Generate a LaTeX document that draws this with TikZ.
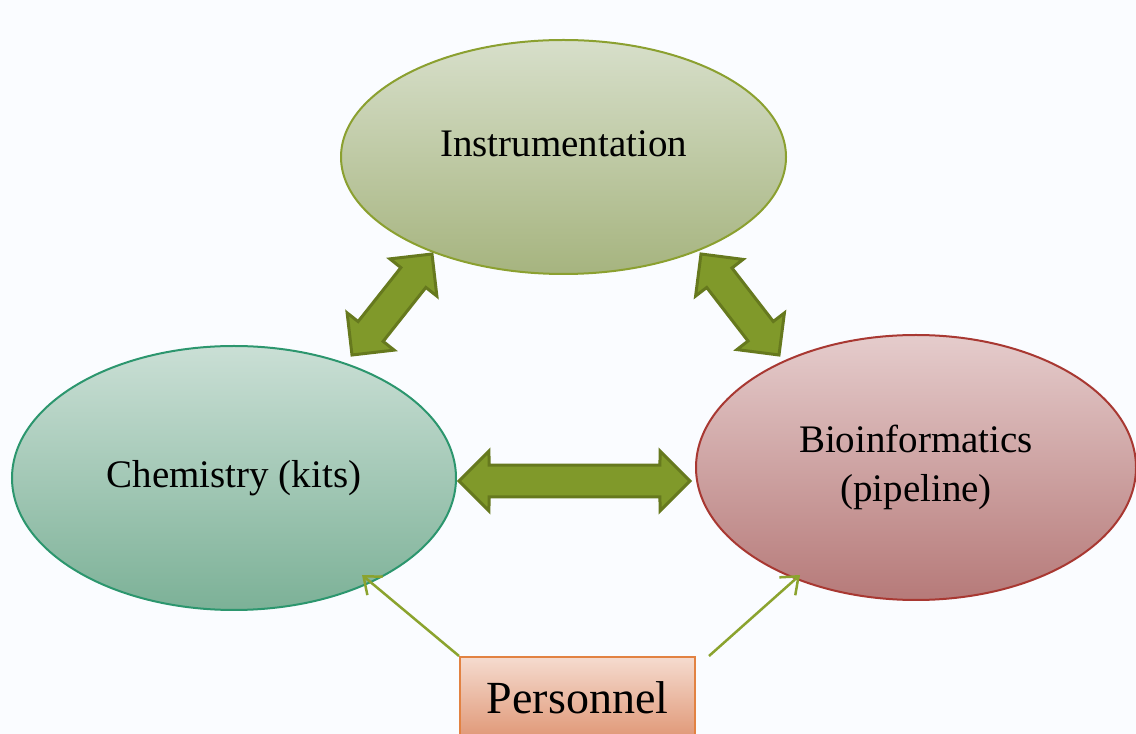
\documentclass[tikz,border=0pt]{standalone}
\usepackage{fontspec}
\setmainfont{Liberation Serif}
\usetikzlibrary{shapes.geometric,calc,arrows.meta}

\definecolor{bgblue}{RGB}{250,252,255}
\definecolor{instrtop}{RGB}{215,223,202}
\definecolor{instrbot}{RGB}{166,180,127}
\definecolor{instrline}{RGB}{139,160,48}
\definecolor{chemtop}{RGB}{202,223,213}
\definecolor{chembot}{RGB}{124,177,151}
\definecolor{chemline}{RGB}{44,150,110}
\definecolor{biotop}{RGB}{229,204,204}
\definecolor{biobot}{RGB}{182,122,121}
\definecolor{bioline}{RGB}{168,56,50}
\definecolor{stafftop}{RGB}{245,219,207}
\definecolor{staffbot}{RGB}{224,152,119}
\definecolor{staffline}{RGB}{226,130,66}
\definecolor{fatfill}{RGB}{128,153,42}
\definecolor{fatline}{RGB}{102,121,30}
\definecolor{thinline}{RGB}{139,163,46}

\tikzset{
  bubble/.style={ellipse, draw, line width=2pt, inner sep=0pt,
    font=\fontsize{39}{49}\selectfont, align=center},
  staffbox/.style={rectangle, draw=staffline, line width=2pt,
    top color=stafftop, bottom color=staffbot, inner sep=0pt,
    minimum width=235pt, minimum height=81pt,
    font=\fontsize{46}{52}\selectfont},
  fatarrow/.style={fill=fatfill, draw=fatline, line width=3pt, line join=miter},
  thinarrow/.style={draw=thinline, line width=2.5pt,
    -{Straight Barb[length=15pt,width=24pt,line width=2.5pt]}}
}

% double headed block arrow between two named points
\newcommand{\fatarrow}[2]{%
  \draw[fatarrow] (#1)
    -- ($(#1)!42.4pt!45:(#2)$) -- ($(#1)!34pt!28:(#2)$)
    -- ($(#2)!34pt!-28:(#1)$) -- ($(#2)!42.4pt!-45:(#1)$)
    -- (#2)
    -- ($(#2)!42.4pt!45:(#1)$) -- ($(#2)!34pt!28:(#1)$)
    -- ($(#1)!34pt!-28:(#2)$) -- ($(#1)!42.4pt!-45:(#2)$)
    -- cycle;}

\begin{document}
\begin{tikzpicture}[x=1pt,y=1pt]
\fill[bgblue] (0,0) rectangle (1136,734);
\useasboundingbox (0,0) rectangle (1136,734);

% the three areas
\node[bubble, draw=instrline, top color=instrtop, bottom color=instrbot,
  minimum width=445pt, minimum height=234pt] (instr) at (563.5,577)
  {\raisebox{26pt}{Instrumentation}};
\node[bubble, draw=chemline, top color=chemtop, bottom color=chembot,
  minimum width=444pt, minimum height=264pt] (chem) at (234,256)
  {Chemistry (kits)};
\node[bubble, draw=bioline, top color=biotop, bottom color=biobot,
  minimum width=440pt, minimum height=265pt] (bio) at (916,266.5)
  {Bioinformatics\\(pipeline)};

\node[staffbox] (staff) at (577.5,36.5) {Personnel};

% block arrows
\coordinate (ci-a) at (352,379);
\coordinate (ci-b) at (432,480);
\coordinate (ib-a) at (701,480);
\coordinate (ib-b) at (779,379);
\coordinate (cb-a) at (459,253);
\coordinate (cb-b) at (690,253);
\fatarrow{ci-a}{ci-b}
\fatarrow{ib-a}{ib-b}
\fatarrow{cb-a}{cb-b}

% personnel feeds
\coordinate (chem-in) at (362,159);
\coordinate (bio-in) at (800,159);
\draw[thinarrow] (staff.north west) -- (chem-in);
\draw[thinarrow] ([xshift=13pt]staff.north east) -- (bio-in);
\end{tikzpicture}
\end{document}
